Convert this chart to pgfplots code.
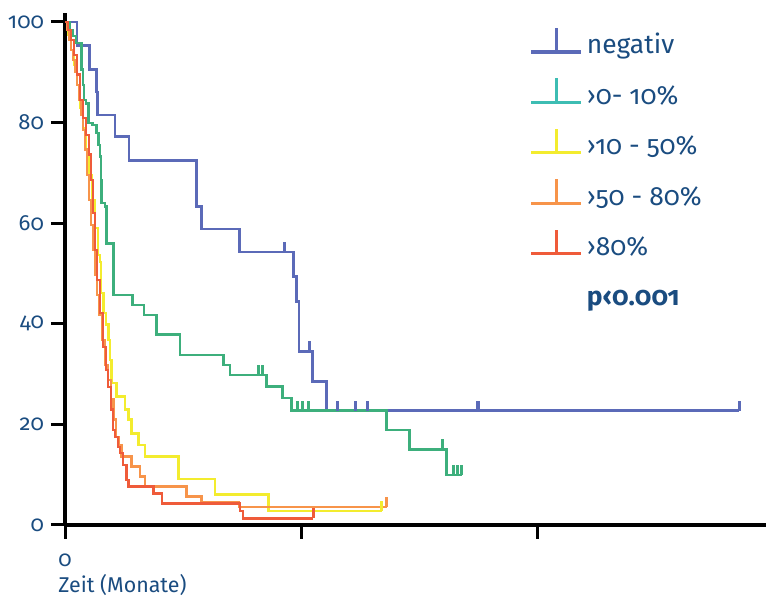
\documentclass[border=0pt]{standalone}
\usepackage{fontspec}
\setmainfont{Fira Sans}[Numbers=OldStyle]
\usepackage{pgfplots}
\pgfplotsset{compat=1.18}
\definecolor{cblue}{HTML}{5B6AB8}
\definecolor{cgreen}{HTML}{3DAF7C}
\definecolor{cteal}{HTML}{3DBDB3}
\definecolor{cyellow}{HTML}{F3EC2E}
\definecolor{corange}{HTML}{F7944A}
\definecolor{cred}{HTML}{EF5B3A}
\definecolor{ctext}{HTML}{1A4C80}
% censor tick: short stroke upwards from the curve
\pgfdeclareplotmark{cens}{%
  \pgfpathmoveto{\pgfpointorigin}%
  \pgfpathlineto{\pgfpoint{0pt}{2\pgfplotmarksize}}%
  \pgfusepathqstroke}
\pgfplotsset{
  km/.style={line width=1.3pt,const plot,forget plot},
  cm/.style={line width=1.3pt,only marks,mark=cens,mark size=2.5pt,forget plot},
}
\begin{document}
\begin{tikzpicture}
\begin{axis}[
  scale only axis, width=350.5pt, height=256pt,
  xmin=0, xmax=297, ymin=0, ymax=101.8,
  axis x line=bottom, axis y line=left,
  axis line style={-,line width=1.6pt,black},
  xtick={0,100,200}, xticklabels={0,,},
  ytick={0,20,...,100},
  tick align=outside, major tick length=7pt,
  tick style={line width=1.5pt,black},
  ticklabel style={font=\fontsize{11}{13}\selectfont,text=ctext},
  xticklabel style={yshift=-4pt},
  /pgf/number format/assume math mode=true,
  clip=false,
  legend image code/.code={\draw[#1] (0pt,-3pt) -- (25pt,-3pt) (12.5pt,-3pt) -- (12.5pt,9pt);},
  legend cell align=left,
  legend style={at={(axis cs:196.7,99.2)},anchor=north west,draw=none,fill=none,
    font=\fontsize{13.2}{15}\selectfont,text=ctext,inner sep=0pt,row sep=8.4pt,
    nodes={inner sep=0pt,inner xsep=2pt,text height=11pt,text depth=3pt}},
]
% negativ
\addplot[cblue,km] coordinates {
  (0,100)(5.08,95.3)(10.30,90.6)(13.43,86.1)(13.8,81.5)(21.19,77.2)(27.12,72.4)
  (55.8,63.3)(57.9,58.8)(73.9,54.3)(96.7,49.4)(98.2,44.4)(99.2,34.5)(104.8,28.5)
  (110.9,22.7)(285.7,22.7)};
\addplot[cblue,cm] coordinates {
  (92.9,54.3)(103.5,34.5)(115.5,22.7)(123.2,22.7)(128.1,22.7)(174.8,22.7)(175.4,22.7)(285.7,22.7)};
% >0-10%
\addplot[cgreen,km] coordinates {
  (0,100)(2.12,98.4)(3.39,97.2)(4.66,95.8)(7.08,90.5)(7.63,87.5)(8.05,84.5)(8.90,83.8)
  (9.87,79.9)(11.74,79.5)(13.43,77.9)(14.19,75.5)(14.83,73.2)(15.25,68.6)(15.55,64.0)
  (16.95,63.3)(17.67,56.0)(20.47,45.7)(28.52,43.7)(33.47,41.7)(38.86,37.8)(48.73,33.8)
  (67.08,31.8)(69.92,29.8)(85.47,27.5)(92.25,25.2)(96.06,22.7)(136.3,18.9)(145.9,15.0)
  (161.7,9.9)(168.1,9.9)};
\addplot[cgreen,cm] coordinates {
  (81.9,29.8)(83.6,29.8)(98.6,22.7)(100.7,22.7)(103.1,22.7)(159.9,15.0)
  (164.5,9.9)(166.4,9.9)(168.1,9.9)};
% >10-50%
\addplot[cyellow,km] coordinates {
  (0,100)(1.27,97.4)(2.54,94.4)(3.81,91.5)(5.08,87.5)(6.36,82.9)(7.63,78.9)(8.90,74.6)
  (10.17,69.6)(11.44,64.6)(12.71,59.0)(13.98,53.7)(14.83,52.3)(15.25,46.1)(16.23,42.1)
  (17.37,39.8)(18.35,36.8)(19.07,32.8)(19.79,28.2)(21.91,25.5)(25.42,22.9)(26.82,20.9)
  (28.26,18.2)(31.06,15.9)(33.90,13.6)(48.0,9.1)(63.56,6.0)(86.14,2.8)(134.2,2.8)};
\addplot[cyellow,cm] coordinates {(134.2,2.8)};
% >50-80%
\addplot[corange,km] coordinates {
  (0,100)(0.85,98.4)(1.69,96.4)(2.54,94.4)(3.39,92.4)(4.24,90.1)(5.08,87.5)(5.93,84.5)
  (6.78,81.5)(7.63,78.5)(8.47,74.6)(9.32,69.6)(10.17,64.6)(11.02,59.6)(11.86,54.7)
  (12.71,49.7)(13.56,45.7)(14.41,41.7)(15.68,36.8)(16.95,31.8)(18.22,28.8)(19.49,24.9)
  (20.47,20.9)(21.61,17.5)(22.58,15.9)(24.03,13.6)(28.26,11.6)(31.78,9.6)(33.90,7.6)
  (51.57,5.6)(57.92,4.4)(73.73,3.6)(136.3,3.6)};
\addplot[corange,cm] coordinates {(136.3,3.6)};
% >80%
\addplot[cred,km] coordinates {
  (0,100)(1.27,98.4)(2.54,96.4)(3.81,93.4)(5.08,89.5)(6.36,84.5)(7.63,80.9)(8.90,77.5)
  (10.17,73.6)(11.02,68.6)(11.86,62.0)(12.71,54.7)(13.56,48.7)(14.83,42.1)(16.10,35.4)
  (17.37,30.8)(18.22,27.4)(19.49,22.9)(20.34,18.9)(21.19,17.5)(22.46,15.5)(23.31,14.3)
  (24.58,11.9)(26.14,8.9)(26.82,7.6)(37.42,6.2)(41.10,4.3)(74.15,2.8)(75.42,1.3)(105.2,1.3)};
\addplot[cred,cm] coordinates {(105.2,1.3)};
% legend
\addlegendimage{color=cblue,line width=1.6pt}
\addlegendentry{negativ}
\addlegendimage{color=cteal,line width=1.6pt}
\addlegendentry{›0- 10\%}
\addlegendimage{color=cyellow,line width=1.6pt}
\addlegendentry{›10 - 50\%}
\addlegendimage{color=corange,line width=1.6pt}
\addlegendentry{›50 - 80\%}
\addlegendimage{color=cred,line width=1.6pt}
\addlegendentry{›80\%}
\addlegendimage{empty legend}
\addlegendentry{\raisebox{-2.5pt}{\textbf{p‹0.001}}}
\node[anchor=base west,inner sep=0pt,font=\fontsize{10.7}{13}\selectfont,text=ctext] at (axis cs:-2.97,-13.5) {Zeit (Monate)};
\coordinate (bbA) at (axis cs:-27.54,-14.71);
\coordinate (bbB) at (axis cs:297,104.37);
\end{axis}
\pgfresetboundingbox
\path[use as bounding box] (bbA) rectangle (bbB);
\end{tikzpicture}
\end{document}
